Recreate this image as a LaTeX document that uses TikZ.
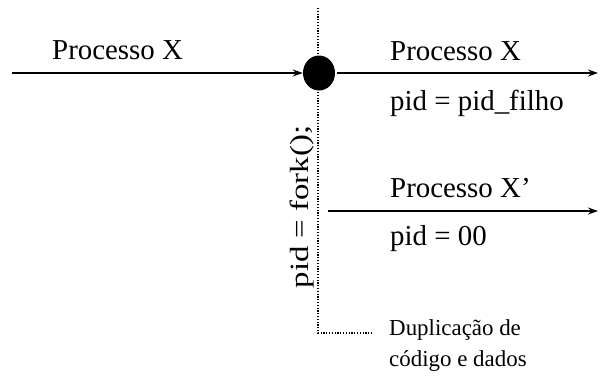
\documentclass[tikz,border=0pt]{standalone}
\usepackage{fontspec}
\setmainfont{Liberation Serif}
\usetikzlibrary{arrows.meta,shapes.geometric}
\begin{document}
\begin{tikzpicture}[x=1bp,y=-1bp,
    seta/.style={line width=1.6bp,-{Stealth[length=10bp,width=7bp]}},
    pontilhado/.style={line width=1.6bp,dash pattern=on 1.2bp off 1.6bp},
    rotulo/.style={anchor=base west,inner sep=0pt,font=\fontsize{29}{34}\selectfont},
    nota/.style={anchor=base west,inner sep=0pt,font=\fontsize{23}{28}\selectfont}]
    \useasboundingbox (0,0) rectangle (601,378);

    % linha pontilhada do fork
    \coordinate (topo) at (318,8);
    \coordinate (canto) at (318,333);
    \coordinate (fimcanto) at (373,333);
    \draw[pontilhado] (topo) -- (canto) -- (fimcanto);

    % ponto da chamada
    \node[ellipse,fill=black,minimum width=32bp,minimum height=35bp,inner sep=0pt] (fork) at (319,73) {};

    \coordinate (inicio) at (12,73);
    \coordinate (fimpai) at (598,73);
    \coordinate (iniciofilho) at (328,211);
    \coordinate (fimfilho) at (598,211);

    \draw[seta] (inicio) -- (fork.west);
    \draw[seta,shorten <=2bp] (fork.east) -- (fimpai);
    \draw[seta] (iniciofilho) -- (fimfilho);

    \node[rotulo] (paiantes) at (52,59) {Processo X};
    \node[rotulo] (pai) at (390,60) {Processo X};
    \node[rotulo] (pidpai) at (390,110) {pid = pid\_filho};
    \node[rotulo] (filho) at (390,197) {Processo X’};
    \node[rotulo] (pidfilho) at (390,245) {pid = 00};

    \node[inner sep=0pt,xscale=0.8,rotate=90,font=\fontsize{33}{38}\selectfont] (chamada) at (302,207) {pid = fork();};

    \node[nota] (dup) at (389,335) {Duplicação de};
    \node[nota] (dup2) at (389,366) {código e dados};
\end{tikzpicture}
\end{document}
